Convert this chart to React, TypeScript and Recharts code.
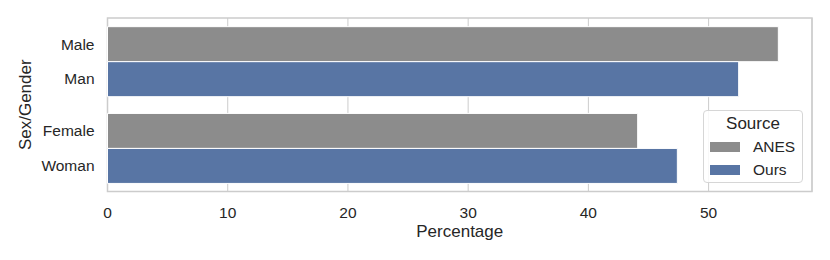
import React from 'react';
import { BarChart, Bar, XAxis, YAxis, CartesianGrid, Legend, ReferenceArea } from 'recharts';

// data (percentages)
const groups = ['Male/Man', 'Female/Woman'];
const anesLabels = ['Male', 'Female'];
const oursLabels = ['Man', 'Woman'];
const anesValues = [55.8, 44.1];
const oursValues = [52.5, 47.4];
const xTicks = [0, 10, 20, 30, 40, 50];
const xMax = 58.6;

const data = groups.map((g, i) => ({ group: g, ANES: anesValues[i], Ours: oursValues[i] }));

const FONT = '"Liberation Sans", Arial, sans-serif';
const TEXT = '#262626';
const GRID = '#cccccc';
const GRAY = '#8c8c8c';
const BLUE = '#5875a4';

const W = 830;
const H = 260;
const TOP = 18;
const PLOT_BOTTOM = 191.5;
const BAND = (PLOT_BOTTOM - TOP) / groups.length;
const BAR_OFFSET = BAND * 0.2; // two bars filling 80% of the band

const GroupTick = ({ x, y, payload }: any) => {
  const i = payload.index;
  return (
    <g fontFamily={FONT} fontSize={15.5} fill={TEXT}>
      <text x={x} y={y - BAR_OFFSET} textAnchor="end" dominantBaseline="central">{anesLabels[i]}</text>
      <text x={x} y={y + BAR_OFFSET} textAnchor="end" dominantBaseline="central">{oursLabels[i]}</text>
    </g>
  );
};

const LegendBox = ({ payload }: any) => (
  <div
    style={{
      width: 100,
      height: 73,
      boxSizing: 'border-box',
      border: '1px solid #d6d6d6',
      borderRadius: 4,
      background: 'rgba(255,255,255,0.85)',
      fontFamily: FONT,
      color: TEXT,
      fontSize: 15.5,
    }}
  >
    <div style={{ textAlign: 'center', fontSize: 17, height: 24, lineHeight: '26px' }}>Source</div>
    {(payload || []).map((p: any) => (
      <div key={p.value} style={{ display: 'flex', alignItems: 'center', height: 23 }}>
        <span
          style={{ display: 'block', flexShrink: 0, width: 30, height: 10, background: p.color, marginLeft: 6, marginRight: 13 }}
        />
        <span style={{ whiteSpace: 'nowrap' }}>{p.value}</span>
      </div>
    ))}
  </div>
);

export default function App() {
  return (
    <div style={{ position: 'absolute', left: 0, top: 0, width: W, height: H, background: '#fff' }}>
      <BarChart
        width={W}
        height={H}
        data={data}
        layout="vertical"
        margin={{ top: TOP, right: 18, left: 0, bottom: 0 }}
        barCategoryGap="10%"
        barGap={0}
      >
        <CartesianGrid horizontal={false} stroke={GRID} strokeWidth={1} />
        <XAxis
          type="number"
          domain={[0, xMax]}
          ticks={xTicks}
          height={68.5}
          axisLine={false}
          tickLine={false}
          tickSize={0}
          tickMargin={15}
          tick={{ fill: TEXT, fontSize: 15.5, fontFamily: FONT }}
          label={{
            value: 'Percentage',
            position: 'insideBottom',
            offset: 23,
            fill: TEXT,
            fontSize: 17,
            fontFamily: FONT,
          }}
        />
        <YAxis
          type="category"
          dataKey="group"
          width={107.5}
          axisLine={false}
          tickLine={false}
          tickSize={0}
          tickMargin={13}
          tick={<GroupTick />}
          label={{
            content: ({ viewBox }: any) => {
              const cy = viewBox.y + viewBox.height / 2;
              return (
                <text
                  x={25}
                  y={cy}
                  transform={`rotate(-90 25 ${cy})`}
                  textAnchor="middle"
                  dominantBaseline="central"
                  fill={TEXT}
                  fontSize={17}
                  fontFamily={FONT}
                >
                  Sex/Gender
                </text>
              );
            },
          }}
        />
        <Bar dataKey="ANES" fill={GRAY} stroke="#fff" strokeWidth={1} isAnimationActive={false} />
        <Bar dataKey="Ours" fill={BLUE} stroke="#fff" strokeWidth={1} isAnimationActive={false} />
        <ReferenceArea x1={0} x2={xMax} fill="none" stroke={GRID} strokeWidth={1.5} ifOverflow="visible" />
        <Legend
          layout="horizontal"
          verticalAlign="middle"
          align="center"
          content={<LegendBox />}
          wrapperStyle={{ position: 'absolute', left: 703, top: 110, width: 100, height: 73 }}
        />
      </BarChart>
    </div>
  );
}
